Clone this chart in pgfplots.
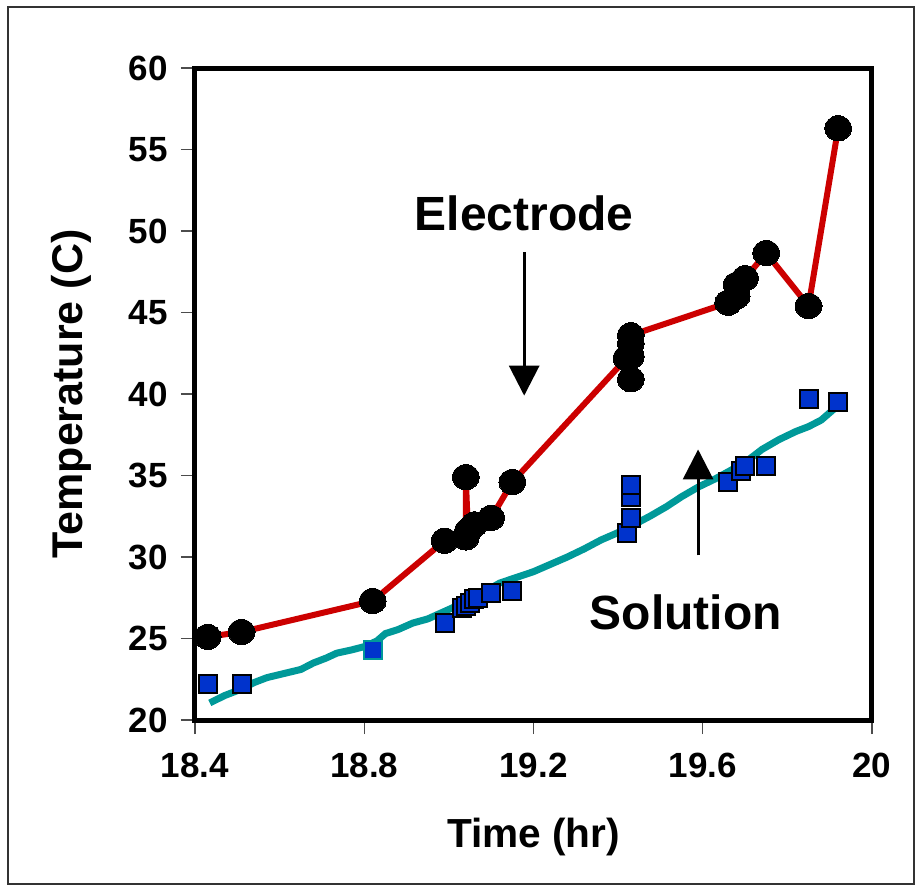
\documentclass[border=0pt]{standalone}
\usepackage{fontspec}
\setmainfont{Liberation Sans}
\usepackage{pgfplots}
\pgfplotsset{compat=1.18}
\usetikzlibrary{arrows.meta}

\definecolor{elecred}{RGB}{204,0,0}
\definecolor{soltealc}{RGB}{0,153,153}
\definecolor{sqblue}{RGB}{0,51,204}

\begin{document}
\begin{tikzpicture}
% 1 px of the reference = 0.5pt
\path[use as bounding box] (-97.5pt,-85.5pt) rectangle (363.5pt,360pt);
\draw[line width=0.6pt, black!80] (-93.5pt,-82pt) rectangle (359.5pt,356.5pt);
\begin{axis}[
    at={(0,0)}, anchor=south west,
    scale only axis, width=338.5pt, height=326pt,
    xmin=18.4, xmax=20, ymin=20, ymax=60,
    xtick={18.4,18.8,19.2,19.6,20},
    ytick={20,25,...,60},
    axis line style={line width=2.5pt},
    tick align=outside, major tick length=7pt,
    tick style={line width=0.6pt, black!70},
    xtick pos=bottom, ytick pos=left,
    /pgf/number format/assume math mode=true,
    /pgf/number format/fixed, /pgf/number format/precision=1,
    ticklabel style={font=\bfseries\fontsize{17.5}{20}\selectfont},
    xticklabel style={yshift=-6pt},
    yticklabel style={xshift=-3pt},
    xlabel={Time (hr)}, ylabel={Temperature (C)},
    xlabel style={font=\bfseries\fontsize{20.3}{24}\selectfont, yshift=-13pt},
    ylabel style={font=\bfseries\fontsize{21.5}{25}\selectfont, yshift=12pt},
    clip=false,
]
% solution squares
\addplot[only marks, mark=square*, mark size=4.5pt,
    mark options={fill=sqblue, draw=black, line width=1pt}]
    coordinates {
    (18.43,22.2) (18.51,22.2) (18.99,25.95)
    (19.03,26.9) (19.04,27.0) (19.05,27.2) (19.06,27.4) (19.07,27.5)
    (19.10,27.8) (19.15,27.9)
    (19.42,31.5) (19.43,32.4) (19.43,33.7) (19.43,34.4)
    (19.66,34.6) (19.69,35.3) (19.70,35.6) (19.75,35.6)
    (19.85,39.7) (19.92,39.5)
    };
\addplot[only marks, mark=square*, mark size=4.5pt,
    mark options={fill=sqblue, draw=soltealc, line width=1pt}]
    coordinates {(18.82,24.3)};
% solution fit line
\addplot[soltealc, line width=3.5pt, no marks] coordinates {
    (18.435,21.05) (18.47,21.5) (18.51,21.9) (18.54,22.3) (18.57,22.6)
    (18.61,22.85) (18.65,23.1) (18.68,23.5) (18.71,23.8) (18.735,24.1)
    (18.77,24.3) (18.80,24.5) (18.83,24.85) (18.85,25.3) (18.88,25.55)
    (18.915,25.95) (18.95,26.2) (18.98,26.55) (19.01,26.9) (19.03,27.25)
    (19.07,27.8) (19.10,28.1) (19.12,28.4) (19.16,28.75) (19.20,29.1)
    (19.24,29.55) (19.28,30.0) (19.32,30.5) (19.36,31.05) (19.40,31.5)
    (19.435,31.95) (19.475,32.5) (19.515,33.1) (19.55,33.7) (19.59,34.3)
    (19.63,34.8) (19.665,35.3) (19.70,35.8) (19.74,36.6) (19.78,37.2)
    (19.82,37.7) (19.85,38.0) (19.88,38.4) (19.92,39.3)
    };
% electrode
\addplot[elecred, line width=3pt, mark=*, mark size=6.3pt,
    mark options={fill=black, draw=black, line width=0pt, xscale=1.07}]
    coordinates {
    (18.43,25.1) (18.51,25.4) (18.82,27.3) (18.99,31.0)
    (19.04,31.2) (19.04,34.9) (19.045,31.6) (19.06,32.0) (19.10,32.4)
    (19.15,34.6)
    (19.42,42.2) (19.43,40.9) (19.43,42.3) (19.43,43.1) (19.43,43.6)
    (19.66,45.6) (19.68,46.0) (19.68,46.7) (19.70,47.1)
    (19.75,48.65) (19.85,45.4) (19.92,56.3)
    };
\node[font=\bfseries\fontsize{24}{28}\selectfont] at (axis cs:19.178,51.1) {Electrode};
\node[font=\bfseries\fontsize{24}{28}\selectfont] at (axis cs:19.56,26.6) {Solution};
\draw[line width=1.5pt, -{Triangle[width=15pt,length=15pt]}]
    (axis cs:19.178,48.7) -- (axis cs:19.178,39.9);
\draw[line width=1.5pt, -{Triangle[width=15pt,length=15pt]}]
    (axis cs:19.589,30.1) -- (axis cs:19.589,36.6);
\end{axis}
\end{tikzpicture}
\end{document}
